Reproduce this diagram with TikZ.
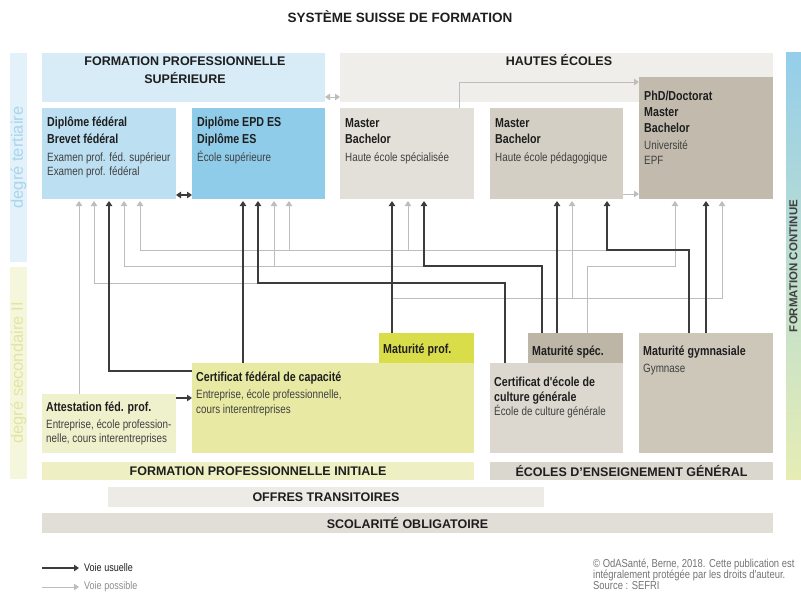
\documentclass[tikz,border=0pt]{standalone}
\usepackage{fontspec}
\setmainfont{Liberation Sans}
\newfontfamily\narrowfont[FakeStretch=0.82]{Liberation Sans}
\usepackage{xcolor}
\usetikzlibrary{arrows.meta}

\definecolor{fpsc}{HTML}{D7ECF7}
\definecolor{dfedc}{HTML}{BCDFF2}
\definecolor{dpesc}{HTML}{8FCCE9}
\definecolor{hautc}{HTML}{EFEEEA}
\definecolor{hesc}{HTML}{E3E0D9}
\definecolor{hepc}{HTML}{D4CFC5}
\definecolor{phdc}{HTML}{C2BBAD}
\definecolor{attc}{HTML}{EFF1CC}
\definecolor{cfcc}{HTML}{E8EAA4}
\definecolor{mpc}{HTML}{DADD4A}
\definecolor{ecgc}{HTML}{DCD8CF}
\definecolor{msc}{HTML}{BDB5A6}
\definecolor{mgc}{HTML}{CDC7BA}
\definecolor{fpic}{HTML}{EEF0C4}
\definecolor{eegc}{HTML}{DAD7CE}
\definecolor{offc}{HTML}{ECEBE6}
\definecolor{scolc}{HTML}{E1DED7}
\definecolor{tertc}{HTML}{E2F1FA}
\definecolor{tertt}{HTML}{A9D5EE}
\definecolor{secc}{HTML}{F5F7DC}
\definecolor{sect}{HTML}{E2E5A2}
\definecolor{contop}{HTML}{94CEEA}
\definecolor{conbot}{HTML}{E6EDB4}
\definecolor{usualc}{HTML}{3C3C3C}
\definecolor{possc}{HTML}{BDBDBD}
\definecolor{darktxt}{HTML}{1E1E1E}
\definecolor{subc}{HTML}{404040}

\begin{document}
\begin{tikzpicture}
[x=1pt, y=-1pt,
area/.style={rectangle, fill=#1, draw=none, anchor=north west, inner sep=0pt, outer sep=0pt},
headtxt/.style={anchor=base, inner sep=0pt, font=\fontsize{12.5}{15}\selectfont\bfseries, text=darktxt},
titletxt/.style={anchor=base west, inner sep=0pt, font=\narrowfont\fontsize{13}{15}\selectfont\bfseries, text=darktxt},
subtxt/.style={anchor=base west, inner sep=0pt, font=\narrowfont\fontsize{12}{14}\selectfont, text=subc},
bandtxt/.style={rotate=90, inner sep=0pt, font=\fontsize{16.5}{19}\selectfont},
smalltxt/.style={anchor=base west, inner sep=0pt, font=\narrowfont\fontsize{11.5}{12}\selectfont, text=black!55},
legtxt/.style={anchor=west, inner sep=0pt, font=\narrowfont\fontsize{11}{12}\selectfont},
usual/.style={draw=usualc, line width=1.1pt, ->, >={Triangle[width=6.5pt,length=5pt]}},
possible/.style={draw=possc, line width=0.9pt, ->, >={Triangle[width=6.5pt,length=5pt]}}
]
\useasboundingbox (0,0) rectangle (801,594);
\node at (400,17) [font=\fontsize{13.5}{16}\selectfont\bfseries, text=darktxt] (titre) {SYSTÈME SUISSE DE FORMATION};

%side bands
\node at (10,53) [area=tertc, minimum width=17pt, minimum height=209pt] (tert) {};
\node at (tert.center) [bandtxt, text=tertt] (tertT) {degré tertiaire};
\node at (10,267) [area=secc, minimum width=17pt, minimum height=212pt] (sec) {};
\node at (sec.center) [bandtxt, text=sect] (secT) {degré secondaire II};
\node at (786,53) [area=white, top color=contop, bottom color=conbot, minimum width=15pt, minimum height=426pt] (cont) {};
\node at (cont.center) [rotate=90, inner sep=0pt, font=\fontsize{11.5}{14}\selectfont\bfseries, text=darktxt!85] (contT) {FORMATION CONTINUE};

%degre tertiaire
\node at (42,53) [area=fpsc, minimum width=283pt, minimum height=49pt] (fps) {};
\node at (185,66) [headtxt] (fpsT1) {FORMATION PROFESSIONNELLE};
\node at (185,84) [headtxt] (fpsT2) {SUPÉRIEURE};
\node at (340,53) [area=hautc, minimum width=433pt, minimum height=49pt] (haut) {};
\node at (559,66) [headtxt] (hautT) {HAUTES ÉCOLES};

\node at (42,108) [area=dfedc, minimum width=134pt, minimum height=91pt] (dfed) {};
\node at (47,126) [titletxt] (dfedT1) {Diplôme fédéral};
\node at (47,143) [titletxt] (dfedT2) {Brevet fédéral};
\node at (47,161) [subtxt] (dfedS1) {Examen prof. féd. supérieur};
\node at (47,175) [subtxt] (dfedS2) {Examen prof. fédéral};

\node at (192,108) [area=dpesc, minimum width=133pt, minimum height=91pt] (dpes) {};
\node at (197,126) [titletxt] (dpesT1) {Diplôme EPD ES};
\node at (197,143) [titletxt] (dpesT2) {Diplôme ES};
\node at (197,161) [subtxt] (dpesS1) {École supérieure};

\node at (340,108) [area=hesc, minimum width=134pt, minimum height=91pt] (hes) {};
\node at (345,127) [titletxt] (hesT1) {Master};
\node at (345,143) [titletxt] (hesT2) {Bachelor};
\node at (345,161) [subtxt] (hesS1) {Haute école spécialisée};

\node at (490,108) [area=hepc, minimum width=133pt, minimum height=91pt] (hep) {};
\node at (495,127) [titletxt] (hepT1) {Master};
\node at (495,143) [titletxt] (hepT2) {Bachelor};
\node at (495,161) [subtxt] (hepS1) {Haute école pédagogique};

\node at (639,77) [area=phdc, minimum width=134pt, minimum height=122pt] (phd) {};
\node at (644,100) [titletxt] (phdT1) {PhD/Doctorat};
\node at (644,116) [titletxt] (phdT2) {Master};
\node at (644,132) [titletxt] (phdT3) {Bachelor};
\node at (644,149) [subtxt] (phdS1) {Université};
\node at (644,164) [subtxt] (phdS2) {EPF};

%degre secondaire II
\node at (379,333) [area=mpc, minimum width=95pt, minimum height=30pt] (mp) {};
\node at (383,353) [titletxt] (mpT) {Maturité prof.};
\node at (192,363) [area=cfcc, minimum width=282pt, minimum height=90pt] (cfc) {};
\node at (196,381) [titletxt] (cfcT) {Certificat fédéral de capacité};
\node at (196,398) [subtxt] (cfcS1) {Entreprise, école professionnelle,};
\node at (196,413) [subtxt] (cfcS2) {cours interentreprises};

\node at (42,394) [area=attc, minimum width=134pt, minimum height=59pt] (att) {};
\node at (46,411) [titletxt] (attT) {Attestation féd. prof.};
\node at (46,428) [subtxt] (attS1) {Entreprise, école profession-};
\node at (46,442) [subtxt] (attS2) {nelle, cours interentreprises};

\node at (528,333) [area=msc, minimum width=95pt, minimum height=30pt] (ms) {};
\node at (532,355) [titletxt] (msT) {Maturité spéc.};
\node at (490,363) [area=ecgc, minimum width=133pt, minimum height=90pt] (ecg) {};
\node at (494,386) [titletxt] (ecgT1) {Certificat d'école de};
\node at (494,401) [titletxt] (ecgT2) {culture générale};
\node at (494,415) [subtxt] (ecgS1) {École de culture générale};

\node at (639,333) [area=mgc, minimum width=134pt, minimum height=120pt] (mg) {};
\node at (643,355) [titletxt] (mgT) {Maturité gymnasiale};
\node at (643,372) [subtxt] (mgS) {Gymnase};

%bands
\node at (42,462) [area=fpic, minimum width=432pt, minimum height=18pt] (fpi) {};
\node at (fpi.center) [headtxt, anchor=center] (fpiT) {FORMATION PROFESSIONNELLE INITIALE};
\node at (490,462) [area=eegc, minimum width=283pt, minimum height=18pt] (eeg) {};
\node at (eeg.center) [headtxt, anchor=center] (eegT) {ÉCOLES D'ENSEIGNEMENT GÉNÉRAL};
\node at (108,487) [area=offc, minimum width=436pt, minimum height=20pt] (off) {};
\node at (off.center) [headtxt, anchor=center] (offT) {OFFRES TRANSITOIRES};
\node at (42,513) [area=scolc, minimum width=731pt, minimum height=20pt] (scol) {};
\node at (scol.center) [headtxt, anchor=center] (scolT) {SCOLARITÉ OBLIGATOIRE};

%arrow ends
\coordinate (dfedA) at ([xshift=37pt,yshift=-2pt]dfed.south west);
\coordinate (dfedB) at ([xshift=52pt,yshift=-2pt]dfed.south west);
\coordinate (dfedC) at ([xshift=67pt,yshift=-2pt]dfed.south west);
\coordinate (dfedD) at ([xshift=82pt,yshift=-2pt]dfed.south west);
\coordinate (dfedE) at ([xshift=98pt,yshift=-2pt]dfed.south west);
\coordinate (dpesA) at ([xshift=51pt,yshift=-2pt]dpes.south west);
\coordinate (dpesB) at ([xshift=66pt,yshift=-2pt]dpes.south west);
\coordinate (dpesC) at ([xshift=82pt,yshift=-2pt]dpes.south west);
\coordinate (dpesD) at ([xshift=97pt,yshift=-2pt]dpes.south west);
\coordinate (hesA) at ([xshift=52pt,yshift=-2pt]hes.south west);
\coordinate (hesB) at ([xshift=68pt,yshift=-2pt]hes.south west);
\coordinate (hesC) at ([xshift=84pt,yshift=-2pt]hes.south west);
\coordinate (hepA) at ([xshift=67pt,yshift=-2pt]hep.south west);
\coordinate (hepB) at ([xshift=82pt,yshift=-2pt]hep.south west);
\coordinate (hepC) at ([xshift=117pt,yshift=-2pt]hep.south west);
\coordinate (phdA) at ([xshift=36pt,yshift=-2pt]phd.south west);
\coordinate (phdB) at ([xshift=67pt,yshift=-2pt]phd.south west);
\coordinate (phdC) at ([xshift=83pt,yshift=-2pt]phd.south west);

%arrow starts
\coordinate (attA) at ([xshift=37pt]att.north west);
\coordinate (attB) at ([yshift=-4pt]att.north east);
\coordinate (cfcA) at ([xshift=51pt]cfc.north west);
\coordinate (cfcB) at ([yshift=-8pt]cfc.north west);
\coordinate (mpA) at ([xshift=13pt]mp.north west);
\coordinate (ecgA) at ([xshift=15pt]ecg.north west);
\coordinate (msA) at ([xshift=14pt]ms.north west);
\coordinate (msB) at ([xshift=29pt]ms.north west);
\coordinate (msC) at ([xshift=59pt]ms.north west);
\coordinate (mgA) at ([xshift=50pt]mg.north west);
\coordinate (mgB) at ([xshift=67pt]mg.north west);
\coordinate (hesD) at ([xshift=119pt]hes.north west);
\coordinate (phdin) at ([yshift=-5pt]phd.north west);
\coordinate (hepD) at ([yshift=5pt]hep.south east);
\coordinate (fpsD) at ([yshift=5pt]fps.south east);
\coordinate (dfedF) at ([yshift=4pt]dfed.south east);

%levels
\coordinate (lvlA) at (0,250);
\coordinate (lvlB) at (0,266);
\coordinate (lvlC) at (0,283);
\coordinate (lvlD) at (0,298);

%voies possibles
\draw[possible] (attA) -- (dfedA);
\draw[possible] (lvlC -| dpesB) -| (dfedB);
\draw[possible] (lvlB -| hesC) -| (dfedD);
\draw[possible] (lvlB -| dpesC) -- (dpesC);
\draw[possible] (msC) |- (lvlB -| phdA) -- (phdA);
\draw[possible] (lvlA -| hepC) -| (dfedE);
\draw[possible] (lvlA -| dpesD) -- (dpesD);
\draw[possible] (lvlA -| hesB) -- (hesB);
\draw[possible] (lvlD -| hesA) -| (phdC);
\draw[possible] (lvlD -| hepB) -- (hepB);
\draw[possible] (hesD) |- (phdin);
\draw[possible] (hepD) -- (hepD -| phd.west);
\draw[possible, <->] (fpsD) -- (fpsD -| haut.west);

%voies usuelles
\draw[usual] (attB) -- (attB -| cfc.west);
\draw[usual] (cfcB) -| (dfedC);
\draw[usual] (cfcA) -- (dpesA);
\draw[usual] (ecgA) |- (lvlC -| dpesB) -- (dpesB);
\draw[usual] (mpA) -- (hesA);
\draw[usual] (msA) |- (lvlB -| hesC) -- (hesC);
\draw[usual] (msB) -- (hepA);
\draw[usual] (mgA) |- (lvlA -| hepC) -- (hepC);
\draw[usual] (mgB) -- (phdB);
\draw[usual, <->] (dfedF) -- (dfedF -| dpes.west);

%legend
\coordinate (legA) at (42,568);
\node at (84,568) [legtxt, text=darktxt] (vu) {Voie usuelle};
\draw[usual] (legA) -- ([xshift=-5pt]vu.west);
\coordinate (legB) at (42,587);
\node at (84,587) [legtxt, text=black!45] (vp) {Voie possible};
\draw[possible] (legB) -- ([xshift=-5pt]vp.west);

\node at (593,567) [smalltxt] (copy1) {© OdASanté, Berne, 2018. Cette publication est};
\node at (593,578) [smalltxt] (copy2) {intégralement protégée par les droits d'auteur.};
\node at (593,589) [smalltxt] (copy3) {Source : SEFRI};

\end{tikzpicture}
\end{document}
